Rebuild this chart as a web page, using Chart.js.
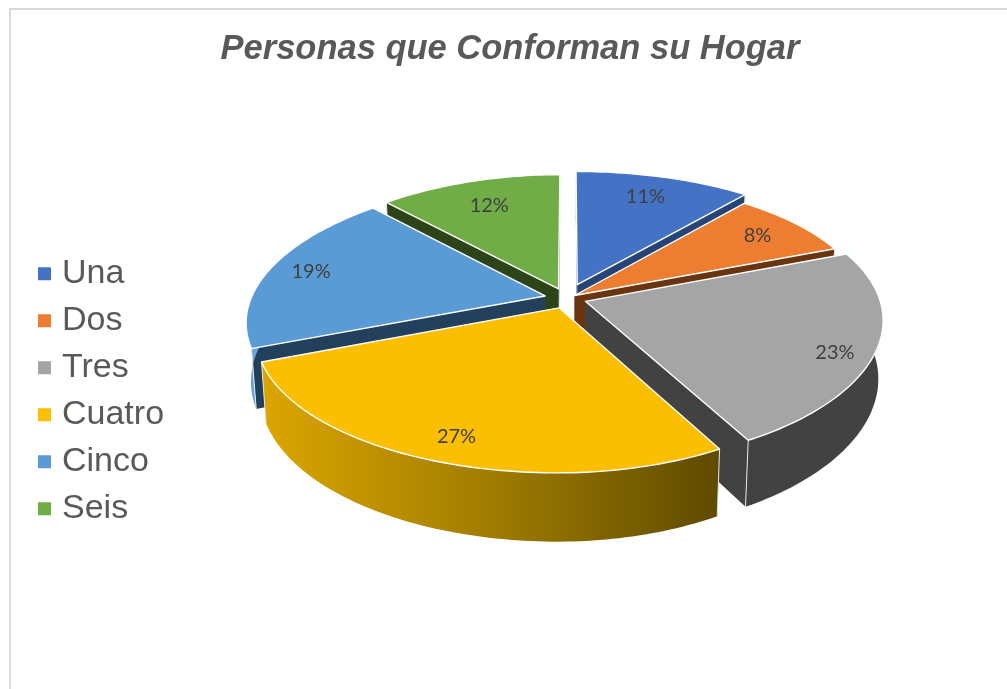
<!DOCTYPE html>
<html><head><meta charset="utf-8">
<style>html,body{margin:0;padding:0;background:#fff;overflow:hidden}canvas{display:block}</style>
<script src="https://cdn.jsdelivr.net/npm/chart.js@4"></script>
</head><body><canvas id="c" width="1007" height="689"></canvas>
<script>
const titleText = 'Personas que Conforman su Hogar';
const categories = ['Una','Dos','Tres','Cuatro','Cinco','Seis'];
const values = [11,8,23,27,19,12];
const topColors = ['#4472c4','#ed7d31','#a5a5a5','#fcbf00','#5b9bd5','#70ad47'];
const cutColors = ['#264478','#6a3410','#424242','#7f6000','#223f5c','#2c4418'];
const wallColors = ['#264478','#6a3410','#424242','#b98f00','#6ba4da','#2c4418'];
const explode = [32,10,20,22,22,22];
const labelFracs = [0.80,0.82,0.88,0.86,0.85,0.75];
const labelSpans = [0.48,0.5,0.55,0.5,0.5,0.5];

const view = {dx:-15, dy:-93, persp:0.16, xPersp:0.8, shear:-0.06, tilt:0.46, depth:57, shrink:0.985};

function project(cx,cy,R,px,py,z){
  const w = 1 - view.persp*py/R;
  let sx = px/Math.pow(w,view.xPersp)+view.shear*py*Math.max(0,-px)/R, sy = view.tilt*py/w;
  if(z){ sx *= view.shrink; sy += view.depth/w; }
  return [cx+sx, cy+sy];
}
function poly(ctx,pts){ctx.beginPath();pts.forEach((p,i)=>i?ctx.lineTo(p[0],p[1]):ctx.moveTo(p[0],p[1]));ctx.closePath();}

const pie3d = {
  id:'pie3d',
  beforeDraw(chart){
    const c=chart.ctx; c.save(); c.fillStyle='#fff'; c.fillRect(0,0,chart.width,chart.height);
    c.fillStyle='#d9d9d9'; c.fillRect(9,8,2,chart.height-8); c.fillRect(9,8,chart.width-9,2); c.restore();
  },
  beforeDatasetsDraw(chart){
    const ctx=chart.ctx, arcs=chart.getDatasetMeta(0).data;
    const order=arcs.map((a,i)=>i).sort((a,b)=>{
      const m=i=>Math.sin((arcs[i].startAngle+arcs[i].endAngle)/2);return m(a)-m(b);});
    ctx.save();
    order.forEach(i=>{
      const a=arcs[i],R=a.outerRadius,cx=a.x+view.dx,cy=a.y+view.dy;
      const mid=(a.startAngle+a.endAngle)/2,off=a.options.offset;
      const ox=Math.cos(mid)*off,oy=Math.sin(mid)*off;
      const P=(ang,r,z)=>project(cx,cy,R,ox+Math.cos(ang)*r,oy+Math.sin(ang)*r,z);
      const n=Math.ceil((a.endAngle-a.startAngle)/0.02);
      const arcT=[],arcB=[];
      for(let k=0;k<=n;k++){const t=a.startAngle+(a.endAngle-a.startAngle)*k/n;arcT.push(P(t,R,0));arcB.push(P(t,R,1));}
      const apT=P(mid,0,0),apB=P(mid,0,1);
      ctx.fillStyle=cutColors[i];
      poly(ctx,[apT,arcT[0],arcB[0],apB]);ctx.fill();
      poly(ctx,[apT,arcT[n],arcB[n],apB]);ctx.fill();
      let wall=wallColors[i];
      if(categories[i]==='Cuatro'){
        const g=ctx.createLinearGradient(arcT[n][0],0,arcT[0][0],0);
        g.addColorStop(0,'#dca600');g.addColorStop(0.5,'#a07c00');g.addColorStop(1,'#5f4a00');wall=g;
      }
      ctx.fillStyle=wall;
      poly(ctx,arcT.concat(arcB.slice().reverse()));ctx.fill();
      ctx.strokeStyle='#e8e8e8';ctx.lineWidth=1;
      [0,n].forEach(k=>{ctx.beginPath();ctx.moveTo(arcT[k][0],arcT[k][1]);ctx.lineTo(arcB[k][0],arcB[k][1]);ctx.stroke();});
      ctx.fillStyle=a.options.backgroundColor;
      poly(ctx,[apT].concat(arcT));ctx.fill();
      ctx.strokeStyle='#fff';ctx.lineWidth=1.4;ctx.lineJoin='round';ctx.stroke();
    });
    ctx.fillStyle='#404040';ctx.font='20px Lato';ctx.textAlign='center';ctx.textBaseline='middle';
    arcs.forEach((a,i)=>{
      const R=a.outerRadius,off=a.options.offset;
      const mid=(a.startAngle+a.endAngle)/2;
      const la=a.startAngle+(a.endAngle-a.startAngle)*labelSpans[i];
      const r=R*labelFracs[i];
      const p=project(a.x+view.dx,a.y+view.dy,R,Math.cos(mid)*off+Math.cos(la)*r,Math.sin(mid)*off+Math.sin(la)*r,0);
      ctx.fillText(values[i]+'%',p[0],p[1]);
    });
    ctx.restore();
    return false;
  }
};

new Chart(document.getElementById('c'),{
  type:'pie',
  plugins:[pie3d],
  data:{labels:categories,datasets:[{data:values,backgroundColor:topColors,borderWidth:0,offset:explode,hoverOffset:0}]},
  options:{
    responsive:false,animation:false,radius:294,
    layout:{padding:{left:31,right:18,top:0,bottom:0}},
    plugins:{
      tooltip:{enabled:false},
      title:{display:true,text:titleText,color:'#595959',
        font:{family:'"Liberation Sans"',size:34.5,weight:'bold',style:'italic'},
        padding:{top:29,bottom:23}},
      legend:{position:'left',fullSize:false,labels:{
        color:'#595959',font:{family:'"Liberation Sans"',size:34},padding:13,boxWidth:1,boxHeight:1,
        generateLabels(chart){
          return Chart.overrides.pie.plugins.legend.labels.generateLabels(chart).map(l=>({...l,strokeStyle:l.fillStyle,lineWidth:12}));
        }}}
    }
  }
});
</script></body></html>
